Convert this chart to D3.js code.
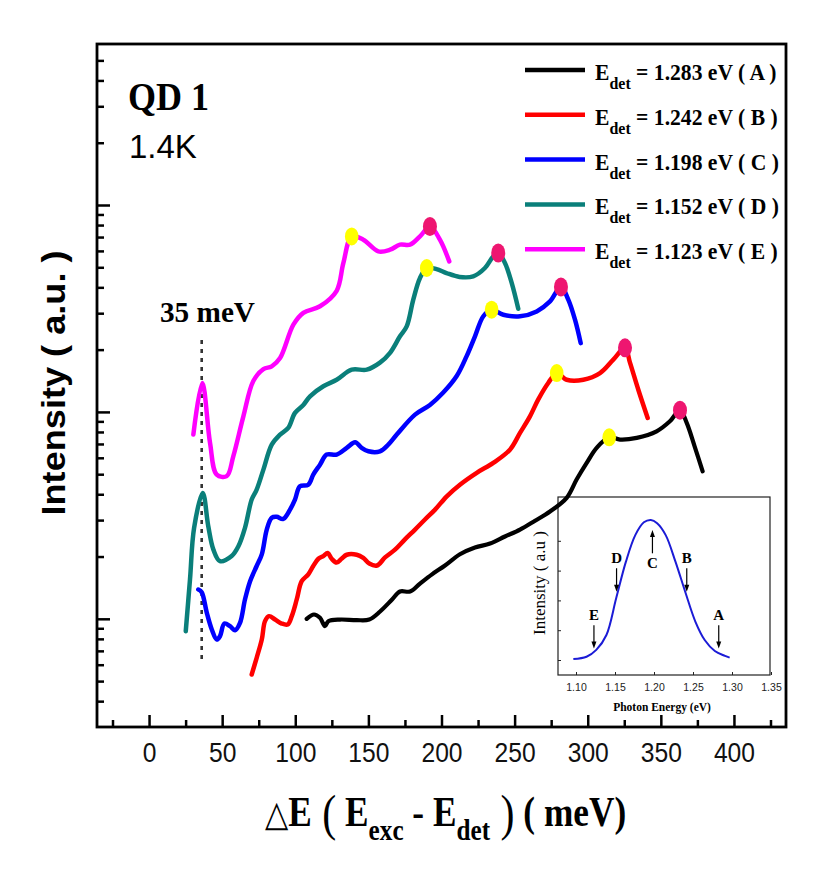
<!DOCTYPE html>
<html><head><meta charset="utf-8">
<script src="https://cdn.jsdelivr.net/npm/d3@7"></script>
<style>body{margin:0;background:#fff}</style>
</head><body>
<svg id="c" width="831" height="887"></svg>
<script>
// ---------- data ----------
const seriesKeys   = ["A","B","C","D","E"];
const seriesEdet   = ["1.283","1.242","1.198","1.152","1.123"];
const seriesColors = ["#000000","#ff0000","#0000ff","#0a7f7a","#ff00ff"];

const xA = [107.8,112.8,116.9,120.3,122.6,130.6,142.0,150.6,158.0,166.2,171.6,178.5,185.3,193.5,202.4,212.6,222.9,233.2,243.4,253.7,264.0,274.2,285.6,292.4,299.3,306.1,314.7,322.1,333.5,347.1,356.2,363.1,367.7,373.1,378.6];
const vA = [1.0,1.049,1.011,0.921,0.974,0.992,0.985,0.992,1.085,1.24,1.355,1.355,1.48,1.64,1.81,2.05,2.21,2.31,2.50,2.70,2.98,3.30,3.84,4.71,5.67,6.70,7.54,7.35,7.49,8.06,9.01,10.2,8.85,6.82,5.16];

const xB = [70.2,73.6,77.1,79.3,82.1,86.2,90.7,94.8,97.6,101.0,104.4,108.9,112.3,115.8,119.2,122.2,124.9,128.3,131.6,135.2,142.0,146.5,150.6,155.9,161.4,168.2,175.0,181.9,188.7,195.6,203.6,212.6,224.1,235.4,246.8,253.7,260.5,266.2,273.0,278.8,285.6,297.0,308.4,317.5,325.5,328.9,334.6,341.0];
const vB = [0.538,0.648,0.794,0.974,1.03,0.992,0.949,0.939,1.03,1.24,1.52,1.64,1.80,1.95,2.01,2.08,1.95,1.87,1.95,2.04,2.04,1.97,1.85,1.81,1.98,2.16,2.42,2.70,3.02,3.37,3.91,4.45,5.08,5.67,6.57,7.92,9.52,11.5,13.8,15.4,14.3,14.3,15.4,17.9,20.4,17.3,12.8,9.35];

const xC = [33.7,36.0,39.5,42.9,46.3,48.5,51.5,55.4,58.8,62.2,65.6,69.1,73.6,77.1,80.5,83.9,87.3,91.8,96.4,99.8,103.2,108.9,112.3,116.9,121.5,128.3,135.2,140.9,145.4,150.0,157.9,163.6,169.4,181.9,192.1,201.2,210.4,217.2,222.9,228.6,234.3,242.3,253.7,265.1,274.2,281.7,286.7,291.3,295.2];
const vC = [1.385,1.345,1.069,0.888,0.794,0.824,0.949,0.921,0.881,0.956,1.24,1.52,1.80,2.05,2.70,3.08,3.11,3.04,3.37,3.77,4.37,4.45,4.98,5.56,6.22,6.22,6.70,7.13,6.70,6.45,6.45,6.95,7.77,9.70,10.8,12.4,14.9,18.6,23.2,29.0,31.2,29.5,29.0,30.6,34.2,40.2,34.9,27.9,21.5];

const xD = [25.1,28.0,30.8,36.7,40.5,44.0,48.5,56.5,61.1,65.6,70.2,73.6,78.2,83.9,89.6,95.2,99.8,105.5,110.1,119.2,128.3,138.6,148.9,157.9,164.8,171.6,176.2,180.7,185.3,189.9,196.6,203.4,212.4,221.7,229.7,235.4,238.8,243.4,248.0,252.5];
const vD = [0.871,1.55,2.75,4.06,2.80,2.16,1.90,2.01,2.24,2.75,3.77,4.21,5.26,6.95,7.77,8.37,9.89,10.8,11.9,13.3,14.3,16.0,16.0,17.3,19.3,23.2,25.9,34.9,44.4,49.6,49.0,46.9,44.9,45.2,49.6,56.5,58.6,52.5,42.0,31.5];

const xE = [30.3,36.4,41.7,46.3,53.1,57.6,64.5,71.3,78.2,83.9,89.6,98.7,105.5,116.9,128.3,132.9,138.6,146.5,156.8,164.8,171.6,178.5,185.3,192.1,198.9,205.3];
const vE = [7.77,13.8,7.08,4.98,4.89,6.10,9.52,14.1,16.1,16.6,18.2,26.4,30.1,32.4,38.5,52.5,70.5,68.0,59.7,60.8,64.3,64.3,70.5,78.8,68.0,53.4];

// marker positions (A..E)
const yellowX = [314.7, 278.8, 234.3, 189.9, 138.6];
const yellowV = [7.54, 15.4, 31.2, 49.6, 70.5];
const pinkX   = [363.1, 325.5, 281.7, 238.8, 192.1];
const pinkV   = [10.2, 20.4, 40.2, 58.6, 78.8];

const xMajorTicks = [0,50,100,150,200,250,300,350,400];
const xMinorTicks = [-25,25,75,125,175,225,275,325,375,425];
const yMajorTicks = [1,10,100];
const yMinorTicks = [0.4,0.5,0.6,0.7,0.8,0.9,2,3,4,5,6,7,8,9,20,30,40,50,60,70,80,90,200,300,400,500];
const phononLine = 36;

// inset: PL spectrum
const insetE = [1.0966,1.1135,1.126,1.139,1.1515,1.164,1.176,1.187,1.196,1.204,1.215,1.2275,1.240,1.253,1.265,1.278,1.291,1.297];
const insetI = [0.03,0.11,0.34,0.84,2.07,3.3,4.19,4.62,4.7,4.59,4.19,3.3,2.29,1.29,0.67,0.3,0.14,0.08];
const insetXTicks = [1.10,1.15,1.20,1.25,1.30,1.35];
const insetYTicks = [0,1,2,3,4];
const arrowE     = [1.123,1.152,1.198,1.242,1.283];
const arrowLetter= ["E","D","C","B","A"];
const arrowFrom  = [1.17,3.08,3.58,3.08,1.17];
const arrowTo    = [0.39,2.29,4.36,2.29,0.39];

// ---------- drawing ----------
const svg = d3.select("#c");
const L=97, R=786, T=44, B=727;
const x = d3.scaleLinear().domain([-35.6,435.6]).range([L,R]);
const y = d3.scaleLog().domain([0.3,600]).range([B,T]);

const serif = "'Liberation Serif','Times New Roman',serif";
const sans  = "'Liberation Sans',Arial,sans-serif";

// ---------- inset (drawn first: main curves pass over its corner) ----------
const iL=558, iR=770, iT=497, iB=675;
const ix = d3.scaleLinear().domain([1.10,1.30]).range([576,732]);
const iy = d3.scaleLinear().domain([0,1]).range([660,630.2]);
const ig = svg.append("g");
ig.append("rect").attr("x",iL).attr("y",iT).attr("width",iR-iL).attr("height",iB-iT)
  .attr("fill","#fff").attr("stroke","#222").attr("stroke-width",1.2);
const igy = ig.append("g").attr("transform",`translate(${iL},0)`);
igy.call(d3.axisLeft(iy).tickValues(insetYTicks).tickSize(-3).tickFormat(""));
igy.select(".domain").remove();
igy.selectAll(".tick line").attr("stroke","#222");
const igx = ig.append("g").attr("transform",`translate(0,${iB})`);
igx.call(d3.axisBottom(ix).tickValues(insetXTicks).tickSize(-3).tickPadding(9).tickFormat(d3.format(".2f")));
igx.select(".domain").remove();
igx.selectAll(".tick line").attr("stroke","#222");
igx.selectAll("text").attr("font-family",sans).attr("font-size",10.5).attr("fill","#222");
ig.append("path").attr("d",d3.line().x((d,i)=>ix(insetE[i])).y(d=>iy(d)).curve(d3.curveCatmullRom.alpha(0.5))(insetI))
  .attr("fill","none").attr("stroke","#1b1bd6").attr("stroke-width",2);
arrowE.forEach((e,i)=>{
  const xp=ix(e), y1=iy(arrowFrom[i]), y2=iy(arrowTo[i]);
  const dir = y2>y1?1:-1;
  ig.append("line").attr("x1",xp).attr("x2",xp).attr("y1",y1).attr("y2",y2-dir*5).attr("stroke","#000").attr("stroke-width",1.2);
  ig.append("path").attr("d",`M${xp-2.5},${y2-dir*7}L${xp+2.5},${y2-dir*7}L${xp},${y2}Z`).attr("fill","#000");
  const ty = dir>0 ? y1-5 : y1+15;
  ig.append("text").attr("x",xp).attr("y",ty).attr("text-anchor","middle").attr("font-family",serif)
    .attr("font-weight","bold").attr("font-size",15).text(arrowLetter[i]);
});
ig.append("text").attr("x",662).attr("y",711).attr("text-anchor","middle").attr("font-family",serif)
  .attr("font-weight","bold").attr("font-size",11.5).text("Photon Energy (eV)");
ig.append("text").attr("transform","translate(545,583) rotate(-90)").attr("text-anchor","middle")
  .attr("font-family",serif).attr("font-size",17).text("Intensity ( a.u )");

// axes ticks (inward)
const gx = svg.append("g").attr("transform",`translate(0,${B})`);
gx.call(d3.axisBottom(x).tickValues(xMajorTicks).tickSize(-12).tickPadding(15).tickFormat(d3.format("d")));
gx.select(".domain").remove();
gx.selectAll(".tick line").attr("stroke","#000").attr("stroke-width",2.5);
gx.selectAll(".tick text").attr("font-family",sans).attr("font-size",28).attr("fill","#111")
  .attr("transform","scale(0.88,1)");
const gxm = svg.append("g").attr("transform",`translate(0,${B})`);
gxm.call(d3.axisBottom(x).tickValues(xMinorTicks).tickSize(-7).tickFormat(""));
gxm.select(".domain").remove();
gxm.selectAll(".tick line").attr("stroke","#000").attr("stroke-width",2.5);

const gy = svg.append("g").attr("transform",`translate(${L},0)`);
gy.call(d3.axisLeft(y).tickValues(yMajorTicks).tickSize(-13).tickFormat(""));
gy.select(".domain").remove();
gy.selectAll(".tick line").attr("stroke","#000").attr("stroke-width",2.5);
const gym = svg.append("g").attr("transform",`translate(${L},0)`);
gym.call(d3.axisLeft(y).tickValues(yMinorTicks).tickSize(-7).tickFormat(""));
gym.select(".domain").remove();
gym.selectAll(".tick line").attr("stroke","#000").attr("stroke-width",2.5);

// frame
svg.append("rect").attr("x",L).attr("y",T).attr("width",R-L).attr("height",B-T)
  .attr("fill","none").attr("stroke","#000").attr("stroke-width",2.8);

// dotted 35 meV line
svg.append("line").attr("x1",x(phononLine)).attr("x2",x(phononLine))
  .attr("y1",340).attr("y2",664).attr("stroke","#333").attr("stroke-width",2.6)
  .attr("stroke-dasharray","4,5");
svg.append("text").attr("x",160).attr("y",322).attr("font-family",serif).attr("font-weight","bold")
  .attr("font-size",30).attr("textLength",95).attr("lengthAdjust","spacingAndGlyphs").text("35 meV");

// curves
const xs=[xA,xB,xC,xD,xE], vs=[vA,vB,vC,vD,vE];
const line = d3.line().x(d=>x(d[0])).y(d=>y(d[1])).curve(d3.curveCatmullRom.alpha(0.5));
xs.forEach((xx,i)=>{
  const pts = xx.map((v,j)=>[v,vs[i][j]]);
  svg.append("path").attr("d",line(pts)).attr("fill","none").attr("stroke",seriesColors[i])
    .attr("stroke-width",i===0?4.2:4.5).attr("stroke-linejoin","round").attr("stroke-linecap","round");
});
// markers
yellowX.forEach((xv,i)=>{
  svg.append("ellipse").attr("cx",x(xv)).attr("cy",y(yellowV[i])).attr("rx",6.8).attr("ry",9).attr("fill","#ffff00");
});
pinkX.forEach((xv,i)=>{
  svg.append("ellipse").attr("cx",x(xv)).attr("cy",y(pinkV[i])).attr("rx",7).attr("ry",9.5).attr("fill","#ee1670");
});

// texts
svg.append("text").attr("x",128).attr("y",110).attr("font-family",serif).attr("font-weight","bold")
  .attr("font-size",40).attr("textLength",81).attr("lengthAdjust","spacingAndGlyphs").text("QD 1");
svg.append("text").attr("x",129).attr("y",158).attr("font-family",sans)
  .attr("font-size",33).text("1.4K");

// legend
seriesKeys.forEach((k,i)=>{
  const ly = 70 + i*44.8;
  svg.append("line").attr("x1",525).attr("x2",585).attr("y1",ly).attr("y2",ly)
    .attr("stroke",seriesColors[i]).attr("stroke-width",4.5);
  const t = svg.append("text").attr("transform",`translate(595,${ly+10}) scale(0.94,1)`).attr("font-family",serif)
    .attr("font-weight","bold").attr("font-size",23);
  t.append("tspan").text("E");
  t.append("tspan").attr("dy",9).attr("font-size",17).text("det");
  t.append("tspan").attr("dy",-9).text(` = ${seriesEdet[i]} eV ( ${k} )`);
});

// axis titles
svg.append("text").attr("transform","translate(65,383) rotate(-90)").attr("text-anchor","middle")
  .attr("font-family",sans).attr("font-weight","bold").attr("font-size",34)
  .attr("textLength",265).attr("lengthAdjust","spacingAndGlyphs").text("Intensity ( a.u. )");

const xt = svg.append("text").attr("transform","translate(265,826) scale(0.84,1)").attr("font-family",serif)
  .attr("font-weight","bold").attr("font-size",42);
xt.append("tspan").attr("font-weight","normal").attr("font-family","'DejaVu Sans',sans-serif").attr("font-size",36).text("\u25B3");
xt.append("tspan").text("E");
xt.append("tspan").attr("font-size",50).attr("font-weight","normal").attr("dy",4).text(" (");
xt.append("tspan").attr("dy",-4).text(" E");
xt.append("tspan").attr("dy",14).attr("font-size",30).text("exc");
xt.append("tspan").attr("dy",-14).text(" - E");
xt.append("tspan").attr("dy",14).attr("font-size",30).text("det");
xt.append("tspan").attr("dy",-10).attr("font-size",50).attr("font-weight","normal").text(" )");
xt.append("tspan").attr("dy",-4).text(" ( meV)");
</script>
</body></html>
